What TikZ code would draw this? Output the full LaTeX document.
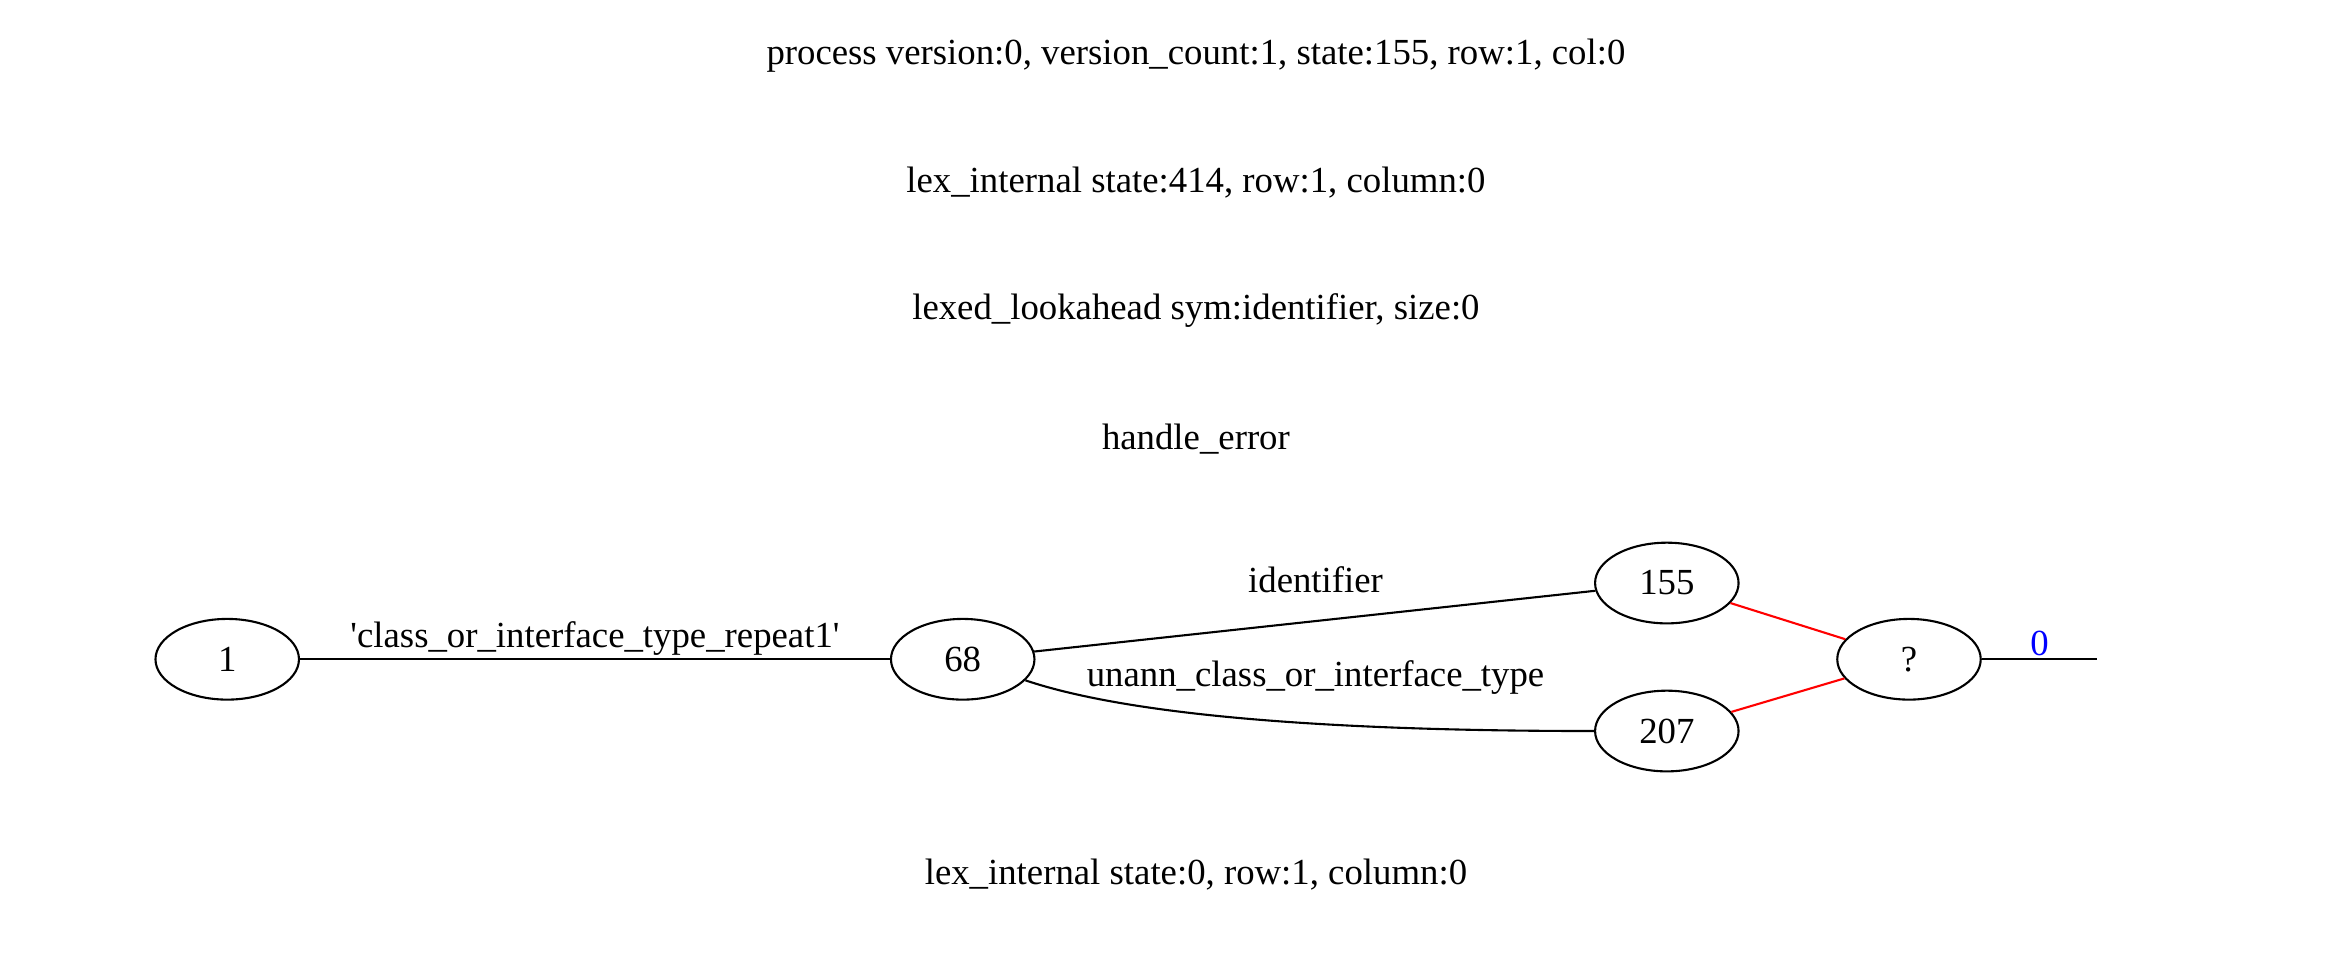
\documentclass[tikz,border=0pt]{standalone}
\usepackage{fontspec}
\setmainfont{Liberation Serif}
\usetikzlibrary{shapes,positioning}
\tikzset{st/.style={draw,ellipse,minimum width=1.92cm,minimum height=1.08cm,inner sep=0pt},
  info/.style={inner sep=0pt},
  lbl/.style={inner sep=1pt}}
\begin{document}
\begin{tikzpicture}[x=0.02cm,y=-0.02cm,line width=0.8pt,font=\fontsize{14}{17}\selectfont]
	\useasboundingbox (0,0) rectangle (1568,654);
	
	\node[info] (t1) at (800,37) {process version:0, version\_count:1, state:155, row:1, col:0};
	\node[info] (t2) at (800,122) {lex\_internal state:414, row:1, column:0};
	\node[info] (t3) at (800,208) {lexed\_lookahead sym:identifier, size:0};
	\node[info] (t4) at (800,294) {handle\_error};
	\node[info] (t5) at (800,585) {lex\_internal state:0, row:1, column:0};
	
	\node[st] (1) at (152,441) {1};
	\node[st] (68) at (644,441) {68};
	\node[st] (155) at (1115,390) {155};
	\node[st] (207) at (1115,489) {207};
	\node[st] (q) at (1277,441) {?};
	\coordinate (end) at (1403,441);
	
	\draw (1) -- node[lbl,above,pos=0.5] {\textquotesingle class\_or\_interface\_type\_repeat1\textquotesingle} (68);
	\node[lbl] (l2) at (880,388) {identifier};
	\draw (68) -- (155);
	\draw (68) .. controls (760,480) and (900,489) .. (207);
	\node[lbl] (l3) at (880,453) {unann\_class\_or\_interface\_type};
	\draw[red] (155) -- (q);
	\draw[red] (207) -- (q);
	\draw (q) -- node[lbl,above,text=blue] {0} (end);
\end{tikzpicture}
\end{document}
